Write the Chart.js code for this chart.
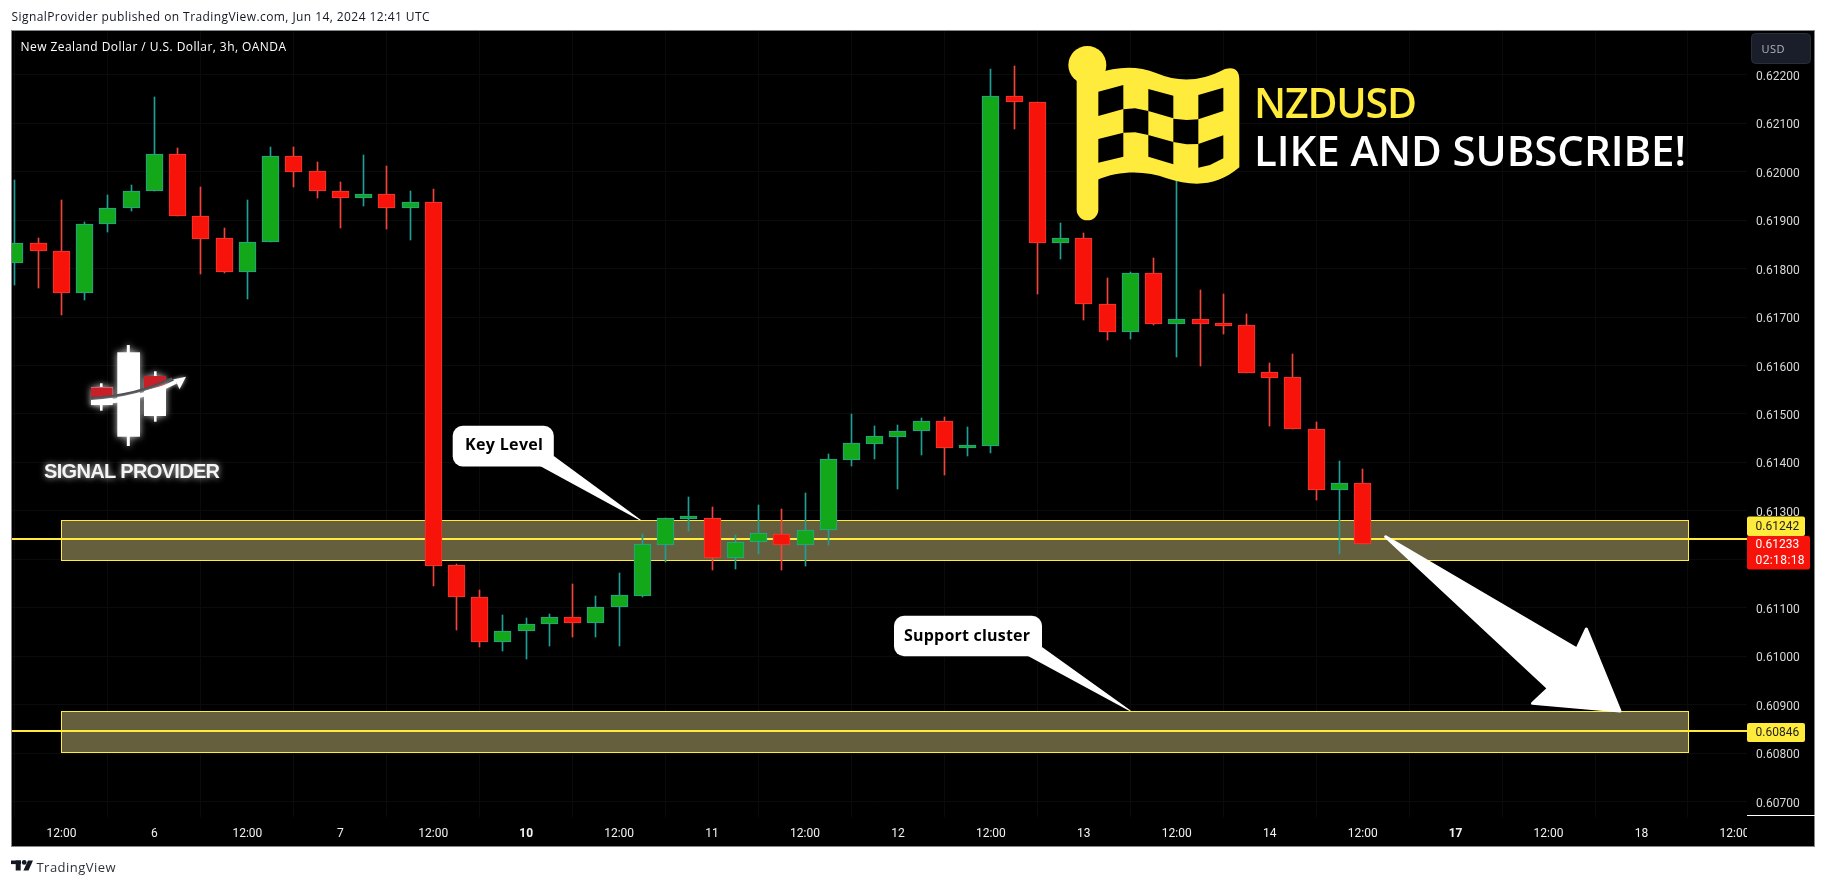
<!DOCTYPE html>
<html><head><meta charset="utf-8">
<style>html,body{margin:0;padding:0;background:#fff;overflow:hidden}canvas{display:block}</style>
<script src="https://cdn.jsdelivr.net/npm/chart.js@4/dist/chart.umd.js"></script>
</head><body><canvas id="c" width="1826" height="886"></canvas>
<script>
const opens =[.61812,.61852,.61836,.61749,.61891,.61924,.61961,.62036,.61909,.61863,.61792,.61854,.62032,.62001,.61961,.61946,.61953,.61924,.61937,.61188,.61122,.61029,.61052,.61066,.61081,.61068,.61101,.61125,.61230,.61284,.61285,.61202,.61235,.61253,.61229,.61260,.61406,.61439,.61453,.61464,.61485,.61429,.61433,.62157,.62143,.61852,.61863,.61726,.61670,.61790,.61686,.61695,.61687,.61683,.61586,.61576,.61470,.61344,.61357];
const highs =[.61983,.61863,.61942,.61896,.61952,.61973,.62154,.62049,.61968,.61884,.61942,.62051,.62051,.62020,.61979,.62034,.62012,.61960,.61964,.61191,.61137,.61085,.61079,.61088,.61149,.61125,.61171,.61253,.61285,.61329,.61308,.61250,.61312,.61304,.61337,.61418,.61500,.61475,.61477,.61492,.61494,.61473,.62212,.62218,.62143,.61894,.61873,.61781,.61793,.61822,.61989,.61756,.61748,.61706,.61605,.61624,.61484,.61403,.61387];
const lows  =[.61766,.61759,.61705,.61736,.61876,.61918,.61961,.61909,.61788,.61790,.61738,.61854,.61969,.61946,.61884,.61930,.61882,.61858,.61146,.61055,.61020,.61010,.60995,.61022,.61039,.61039,.61022,.61123,.61195,.61259,.61178,.61180,.61211,.61178,.61187,.61230,.61393,.61407,.61345,.61415,.61374,.61413,.61420,.62087,.61748,.61819,.61693,.61653,.61655,.61684,.61618,.61600,.61666,.61585,.61476,.61470,.61323,.61211,.61231];
const closes=[.61852,.61836,.61749,.61891,.61924,.61961,.62036,.61909,.61862,.61792,.61854,.62032,.62000,.61961,.61946,.61953,.61924,.61937,.61187,.61122,.61029,.61052,.61066,.61081,.61068,.61101,.61126,.61231,.61285,.61286,.61202,.61235,.61254,.61229,.61260,.61407,.61440,.61454,.61464,.61485,.61429,.61433,.62157,.62143,.61852,.61863,.61726,.61670,.61790,.61686,.61695,.61686,.61682,.61585,.61575,.61470,.61344,.61357,.61231];
const timeTickPositions=[2,6,10,14,18,22,26,30,34,38,42,46,50,54,58,62,66,70,74];
const timeTickLabels=["12:00","6","12:00","7","12:00","10","12:00","11","12:00","12","12:00","13","12:00","14","12:00","17","12:00","18","12:00"];
const boldTimeLabels=["10","17"];
const priceTicks=[.607,.608,.609,.610,.611,.612,.613,.614,.615,.616,.617,.618,.619,.620,.621,.622];
const levels=[.61242,.60846];
const lastPrice=.61233;
const countdown="02:18:18";
const zoneTops=[.61281,.60887];
const zoneBottoms=[.61198,.60802];
const zoneStart=2, zoneEnd=72;

const RED='#f8130a',GREEN='#12a81a',REDW='#f2443a',GREENW='#1f9f96',TEAL='#26a69a',YEL='#ffeb3b';
const FONT='"Open Sans"',NUM='Roboto';
const idx=opens.map((_,i)=>i);
const isUp=i=>closes[i]>=opens[i];
const XMIN=-0.129,XMAX=74.54;

function fit(ctx,text,x,y,w,font,color){
  ctx.save();ctx.font=font;ctx.fillStyle=color;ctx.textBaseline='alphabetic';ctx.textAlign='left';
  ctx.letterSpacing='0px';
  const m=ctx.measureText(text).width;
  ctx.letterSpacing=((w-m)/(text.length-1)).toFixed(3)+'px';
  ctx.fillText(text,x,y);ctx.restore();
}
function poly(ctx,p){ctx.beginPath();p.forEach((q,i)=>i?ctx.lineTo(q[0],q[1]):ctx.moveTo(q[0],q[1]));ctx.closePath();}

function callout(ctx,x0,y0,x1,y1,tail,text,tx,ty,tw,fs){
  ctx.save();ctx.fillStyle='#fff';ctx.strokeStyle='#fff';
  ctx.beginPath();ctx.roundRect(x0,y0,x1-x0,y1-y0,10);ctx.fill();
  poly(ctx,tail);ctx.fill();
  ctx.restore();
  fit(ctx,text,tx,ty,tw,'bold '+fs+'px '+FONT,'#000');
}
function drawFlag(ctx){
  const X=z=>950+z/3,Y=z=>30+z/3;
  ctx.save();ctx.fillStyle=YEL;ctx.strokeStyle=YEL;
  ctx.beginPath();ctx.arc(X(412),Y(105),19,0,Math.PI*2);ctx.fill();
  ctx.beginPath();ctx.roundRect(X(380),Y(120),X(445)-X(380),Y(571)-Y(120),11);ctx.fill();
  ctx.beginPath();
  ctx.moveTo(X(440),Y(130));
  ctx.bezierCurveTo(X(500),Y(110),X(560),Y(105),X(620),Y(130));
  ctx.bezierCurveTo(X(690),Y(158),X(750),Y(155),X(825),Y(117));
  ctx.quadraticCurveTo(X(868),Y(105),X(868),Y(150));
  ctx.lineTo(X(868),Y(412));
  ctx.bezierCurveTo(X(800),Y(470),X(730),Y(470),X(650),Y(445));
  ctx.bezierCurveTo(X(590),Y(422),X(510),Y(420),X(440),Y(450));
  ctx.closePath();ctx.fill();
  ctx.fillStyle='#000';
  const cells=[
    [[445,185],[520,165],[520,237],[445,258]],
    [[595,177],[670,197],[670,265],[595,243]],
    [[745,195],[820,173],[820,243],[745,268]],
    [[520,238],[555,235],[595,243],[595,315],[555,307],[520,308]],
    [[670,266],[710,270],[745,268],[745,342],[710,343],[670,336]],
    [[445,327],[520,308],[520,380],[445,398]],
    [[595,315],[670,336],[670,403],[595,380]],
    [[745,342],[820,316],[820,385],[780,405],[745,413]]
  ];
  cells.forEach(c=>{poly(ctx,c.map(q=>[X(q[0]),Y(q[1])]));ctx.fill();});
  ctx.restore();
}
function drawLogo(ctx){
  ctx.save();
  ctx.shadowColor='rgba(255,255,255,.75)';ctx.shadowBlur=7;
  ctx.fillStyle='#fff';
  ctx.fillRect(117.3,352.3,22.7,84.4);ctx.fillRect(126.8,345,3,101);
  ctx.fillRect(91,387,21.7,18);ctx.fillRect(100,383.3,2.6,27.4);
  ctx.fillRect(144,376,22,40);ctx.fillRect(154,371.3,2.6,50.4);
  ctx.shadowBlur=0;
  ctx.fillStyle='#c81e28';
  ctx.fillRect(91,387.3,21.7,10.4);
  poly(ctx,[[144,376],[166,376],[166,385],[144,390.5]]);ctx.fill();
  ctx.strokeStyle='#45474b';ctx.lineWidth=3;
  ctx.beginPath();ctx.moveTo(91,398.5);ctx.quadraticCurveTo(138,395.5,172,378.5);ctx.stroke();
  ctx.shadowColor='rgba(255,255,255,.7)';ctx.shadowBlur=4;
  ctx.fillStyle='#fff';
  ctx.beginPath();ctx.moveTo(91,401);ctx.quadraticCurveTo(140,398,175,380);ctx.lineTo(177,383.5);ctx.quadraticCurveTo(140,403,91,405);ctx.closePath();ctx.fill();
  poly(ctx,[[186,376.7],[173,379.5],[176.5,382.5],[179.5,389.3]]);ctx.fill();
  ctx.shadowBlur=6;ctx.shadowColor='rgba(255,255,255,.8)';
  fit(ctx,'SIGNAL PROVIDER',44,478,176,'bold 20px "Liberation Sans"','#f4f4f4');
  ctx.restore();
}
function priceTag(ctx,x,y,w,h,fill,lines,color){
  ctx.save();ctx.fillStyle=fill;ctx.beginPath();ctx.roundRect(x,y,w,h,2);ctx.fill();
  ctx.fillStyle=color;ctx.font='12px '+NUM;ctx.textBaseline='middle';ctx.textAlign='left';
  lines.forEach(l=>{ctx.letterSpacing=l[2]||'0px';ctx.fillText(l[0],x+8.5,l[1]);});
  ctx.restore();
}
let labelsNudged=false;
const decor={id:'decor',
  beforeDraw(ch){const c=ch.ctx;c.save();c.fillStyle='#fff';c.fillRect(0,0,1826,886);
    c.fillStyle='#000';c.fillRect(11,30,1804,817);
    c.strokeStyle='#85868a';c.lineWidth=1;c.strokeRect(11.5,30.5,1803,816);c.restore();
    if(!labelsNudged){labelsNudged=true;
      ch.scales.y.getLabelItems(ch.chartArea).forEach(it=>{it.options.translation[1]+=2;});}
  },
  beforeDatasetsDraw(ch){const c=ch.ctx,x=ch.scales.x,y=ch.scales.y;c.save();
    zoneTops.forEach((t,k)=>{
      const x0=Math.round(x.getPixelForValue(zoneStart))+.5,x1=Math.round(x.getPixelForValue(zoneEnd))+.5,
            y0=Math.round(y.getPixelForValue(t))+.5,y1=Math.round(y.getPixelForValue(zoneBottoms[k]))+.5;
      c.fillStyle='#655f3d';c.fillRect(x0,y0,x1-x0,y1-y0);
      c.strokeStyle=YEL;c.lineWidth=1;c.strokeRect(x0,y0,x1-x0,y1-y0);});
    c.restore();
    ch.data.datasets.forEach((d,k)=>{if(d.type==='line')return;
      ch.getDatasetMeta(k).data.forEach(el=>{el.x=Math.round(el.x-.5)+.5;el.y=Math.round(el.y);el.base=Math.round(el.base);});});
  },
  afterDatasetsDraw(ch){const c=ch.ctx;
    drawFlag(c);
    fit(c,'NZDUSD',1254,117.5,163,'600 41px '+FONT,YEL);
    fit(c,'LIKE AND SUBSCRIBE!',1254,166,432,'600 42px '+FONT,'#fff');
    drawLogo(c);
    callout(c,452.7,425.7,553.8,466.5,[[540,466],[553.8,456],[641,520],[640,520.5]],'Key Level',465,450,78,16);
    callout(c,894,615.7,1042,656.3,[[1028,656],[1042,647],[1131,710.7],[1129.5,711]],'Support cluster',904,641,126,16);
    c.save();c.fillStyle='#fff';c.strokeStyle='#fff';c.lineWidth=3;c.lineJoin='round';
    poly(c,[[1385.6,536.7],[1577,649],[1586.4,629],[1620,711],[1532.5,703.3],[1548.5,688.3]]);c.fill();c.stroke();c.restore();
    fit(c,'New Zealand Dollar / U.S. Dollar, 3h, OANDA',20.5,51,265.5,'12px '+FONT,'#ffffff');
  },
  afterDraw(ch){const c=ch.ctx;
    c.save();c.fillStyle='#000';c.fillRect(1747,816,67,30);
    c.fillStyle='#fff';c.fillRect(1747,815,68,1);c.restore();
    c.save();c.fillStyle='#1a1e2b';c.strokeStyle='#2a2e39';c.beginPath();c.roundRect(1751.5,33.5,59,30,4);c.fill();c.stroke();
    c.restore();
    fit(c,'USD',1761.5,53,23,'11px '+FONT,'#b2b5be');
    priceTag(c,1747,516.5,58,19.5,YEL,[[levels[0].toFixed(5),526.5]],'#222');
    priceTag(c,1747,536,63,33.5,'#f8130a',[[lastPrice.toFixed(5),545],[countdown,560.5,'0.4px']],'#fff');
    priceTag(c,1747,723,58,19,YEL,[[levels[1].toFixed(5),732.5]],'#222');
    fit(c,'SignalProvider published on TradingView.com, Jun 14, 2024 12:41 UTC',11.5,21,418,'12px '+FONT,'#131722');
    c.save();c.fillStyle='#131722';
    c.fillRect(11,860.5,10,3.6);c.fillRect(15.7,860.5,5,10);
    c.beginPath();c.arc(24.2,862.4,2.4,0,Math.PI*2);c.fill();
    poly(c,[[28,860.5],[33,860.5],[28.5,870.5],[23.4,870.5]]);c.fill();c.restore();
    fit(c,'TradingView',36.5,872,79,'13px '+FONT,'#2e323c');
  }};

new Chart(document.getElementById('c').getContext('2d'),{
  type:'bar',
  plugins:[decor],
  data:{datasets:[
    ...levels.map(v=>({type:'line',order:3,data:[{x:XMIN,y:v},{x:XMAX,y:v}],borderColor:YEL,borderWidth:2,pointRadius:0,tension:0})),
    {order:2,grouped:false,barThickness:1,data:idx.map(i=>({x:i,y:[lows[i],highs[i]]})),
     backgroundColor:idx.map(i=>isUp(i)?GREENW:REDW),borderWidth:0},
    {order:1,grouped:false,barThickness:17,minBarLength:3,data:idx.map(i=>({x:i,y:[Math.min(opens[i],closes[i]),Math.max(opens[i],closes[i])]})),
     backgroundColor:idx.map(i=>isUp(i)?GREEN:RED),borderColor:idx.map(i=>isUp(i)?TEAL:'#f23c34'),borderWidth:1,borderSkipped:false}
  ]},
  options:{
    responsive:false,animation:false,devicePixelRatio:1,
    layout:{padding:{left:12,top:31,right:12,bottom:40}},
    plugins:{legend:{display:false},tooltip:{enabled:false},title:{display:false}},
    scales:{
      x:{type:'linear',min:XMIN,max:XMAX,offset:false,
        afterBuildTicks(s){s.ticks=timeTickPositions.map(v=>({value:v}));},
        afterFit(s){s.height=29;},
        grid:{color:'#0b0b0b',drawTicks:false},border:{display:false},
        ticks:{autoSkip:false,maxRotation:0,padding:10,color:'#f2f2f2',
          font:c=>({family:NUM,size:12,weight:boldTimeLabels.includes(timeTickLabels[timeTickPositions.indexOf(c.tick&&c.tick.value)])?'bold':'normal'}),
          callback:v=>timeTickLabels[timeTickPositions.indexOf(v)]}},
      y:{type:'linear',position:'right',min:.606685,max:.622902,
        afterBuildTicks(s){s.ticks=priceTicks.map(v=>({value:v}));},
        afterFit(s){s.width=67;},
        grid:{color:'#0b0b0b',drawTicks:false},border:{display:false},
        ticks:{autoSkip:false,padding:9,color:'#d8d8d8',font:{family:NUM,size:12},
          callback:v=>v.toFixed(5)}}
    }
  }
});
</script></body></html>
